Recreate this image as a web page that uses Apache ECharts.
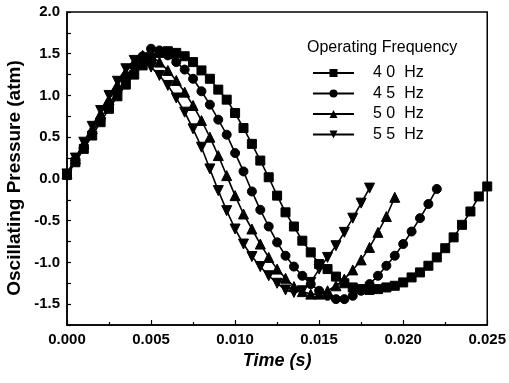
<!DOCTYPE html>
<html>
<head>
<meta charset="utf-8">
<script src="https://cdn.jsdelivr.net/npm/echarts@6/dist/echarts.min.js"></script>
<style>html,body{margin:0;padding:0;background:#fff}#c{width:509px;height:383px}</style>
</head>
<body>
<div id="c"></div>
<script>
var times = [0.0000,0.0005,0.0010,0.0015,0.0020,0.0025,0.0030,0.0035,0.0040,0.0045,
             0.0050,0.0055,0.0060,0.0065,0.0070,0.0075,0.0080,0.0085,0.0090,0.0095,
             0.0100,0.0105,0.0110,0.0115,0.0120,0.0125,0.0130,0.0135,0.0140,0.0145,
             0.0150,0.0155,0.0160,0.0165,0.0170,0.0175,0.0180,0.0185,0.0190,0.0195,
             0.0200,0.0205,0.0210,0.0215,0.0220,0.0225,0.0230,0.0235,0.0240,0.0245,0.0250];

var seriesNames = ['4 0  Hz', '4 5  Hz', '5 0  Hz', '5 5  Hz'];

var p40 = [0.05,0.20,0.36,0.52,0.68,0.84,0.99,1.13,1.25,1.36,
           1.45,1.51,1.53,1.51,1.47,1.40,1.30,1.20,1.07,0.95,
           0.79,0.61,0.42,0.22,0.02,-0.20,-0.40,-0.57,-0.74,-0.88,
           -1.02,-1.08,-1.17,-1.25,-1.30,-1.32,-1.33,-1.32,-1.30,-1.28,
           -1.24,-1.18,-1.12,-1.04,-0.94,-0.83,-0.70,-0.55,-0.39,-0.21,-0.09];

var p45 = [0.05,0.22,0.38,0.55,0.72,0.89,1.05,1.20,1.35,1.47,
           1.56,1.54,1.48,1.40,1.31,1.20,1.05,0.89,0.71,0.53,
           0.31,0.09,-0.15,-0.37,-0.57,-0.76,-0.92,-1.05,-1.16,-1.26,
           -1.34,-1.40,-1.44,-1.44,-1.40,-1.34,-1.26,-1.16,-1.04,-0.92,
           -0.78,-0.63,-0.47,-0.30,-0.12];

var p50 = [0.06,0.24,0.42,0.60,0.78,0.95,1.12,1.28,1.40,1.48,
           1.47,1.40,1.30,1.18,1.04,0.88,0.70,0.50,0.28,0.04,
           -0.20,-0.42,-0.60,-0.78,-0.94,-1.08,-1.19,-1.29,-1.35,-1.38,
           -1.38,-1.34,-1.28,-1.20,-1.09,-0.97,-0.82,-0.64,-0.45,-0.22];

var p55 = [0.06,0.25,0.44,0.63,0.82,1.00,1.17,1.32,1.42,1.42,
           1.34,1.24,1.12,0.97,0.80,0.60,0.38,0.12,-0.14,-0.38,
           -0.60,-0.78,-0.93,-1.05,-1.16,-1.25,-1.33,-1.36,-1.34,-1.24,
           -1.08,-0.94,-0.80,-0.64,-0.47,-0.29,-0.11];

var xTicks = [0, 0.025, 0.005];
var yTicks = [-1.75, 2.0, 0.25];

var FONT = '"Liberation Sans", Arial, sans-serif';
var symbols = ['rect', 'circle', 'triangle', 'path://M0,0 L10,0 L5,10 Z'];
var sizes = [9, 9, 10, 10];
var values = [p40, p45, p50, p55];

function pairs(v) { return v.map(function (y, i) { return [times[i], y]; }); }

var chart = echarts.init(document.getElementById('c'), null, {renderer: 'canvas'});
chart.setOption({
  animation: false,
  backgroundColor: '#fff',
  grid: {left: 67, top: 12, right: 20, bottom: 58, show: true, borderColor: '#000', borderWidth: 1.5, backgroundColor: 'transparent'},
  title: {
    text: 'Operating Frequency', left: 302, top: 35,
    textStyle: {fontFamily: FONT, fontSize: 16, fontWeight: 'normal', color: '#000'}
  },
  graphic: [{
    type: 'text', x: 15, y: 178, rotation: Math.PI / 2,
    style: {text: 'Oscillating Pressure (atm)', fontFamily: FONT, fontSize: 19, fontWeight: 'bold',
      fill: '#000', textAlign: 'center', textVerticalAlign: 'middle'}
  }],
  legend: {
    orient: 'vertical', left: 307, top: 60, itemWidth: 41, itemHeight: 10, itemGap: 4.5,
    data: seriesNames,
    textStyle: {fontFamily: FONT, fontSize: 16, color: '#000', padding: [0, 0, 0, 14], lineHeight: 16}
  },
  xAxis: {
    type: 'value', min: xTicks[0], max: xTicks[1], interval: xTicks[2],
    name: 'Time (s)', nameLocation: 'middle', nameGap: 27,
    nameTextStyle: {fontFamily: FONT, fontSize: 18, fontWeight: 'bold', fontStyle: 'italic', color: '#000'},
    axisLine: {onZero: false, lineStyle: {color: '#000', width: 1.5}},
    axisTick: {inside: true, length: 5, lineStyle: {color: '#000', width: 1.2}},
    minorTick: {show: true, splitNumber: 2, length: 3, lineStyle: {color: '#000', width: 1.2}},
    splitLine: {show: false},
    axisLabel: {margin: 7, fontFamily: FONT, fontSize: 15, fontWeight: 'bold', color: '#000',
      formatter: function (v) { return v.toFixed(3); }}
  },
  yAxis: {
    type: 'value', min: yTicks[0], max: yTicks[1], interval: yTicks[2],
    axisLine: {onZero: false, lineStyle: {color: '#000', width: 1.5}},
    axisTick: {inside: true, length: 4, lineStyle: {color: '#000', width: 1.2}},
    splitLine: {show: false},
    axisLabel: {margin: 7, fontFamily: FONT, fontSize: 15, fontWeight: 'bold', color: '#000',
      formatter: function (v) { var d = v * 2; return Math.abs(d - Math.round(d)) < 1e-6 ? v.toFixed(1) : ''; }}
  },
  series: seriesNames.map(function (n, i) {
    return {
      name: n, type: 'line', data: pairs(values[i]),
      symbol: symbols[i], symbolSize: sizes[i], showSymbol: true,
      lineStyle: {color: '#000', width: 1.6},
      itemStyle: {color: '#000', borderColor: '#000'},
      z: 2 + i
    };
  })
});
</script>
</body>
</html>
